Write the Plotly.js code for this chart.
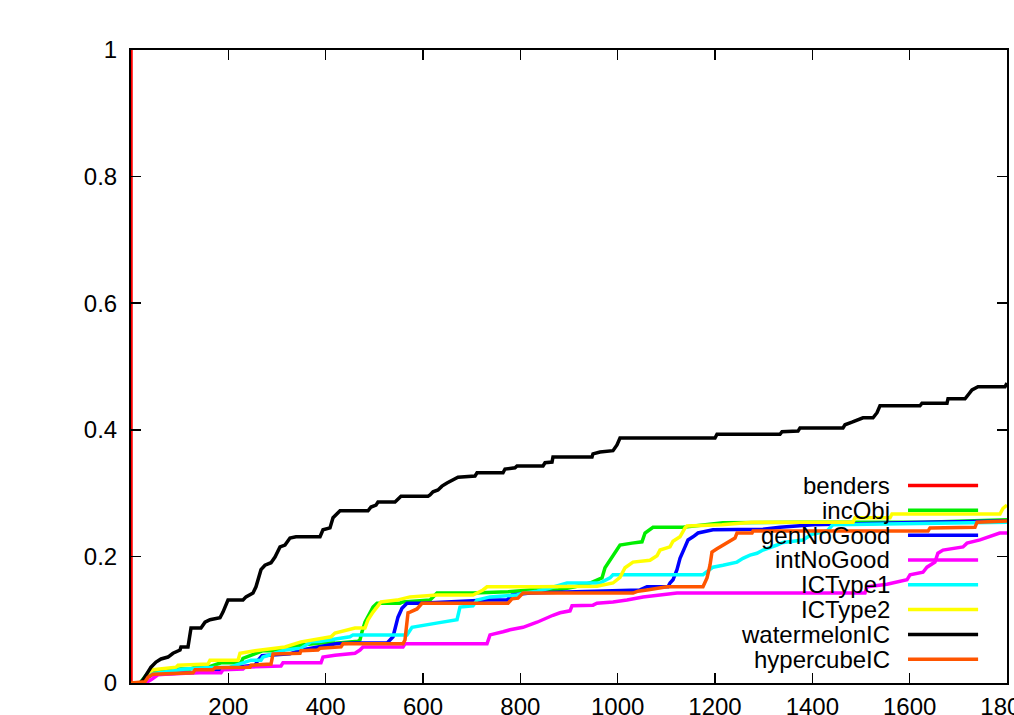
<!DOCTYPE html>
<html>
<head>
<meta charset="utf-8">
<script src="https://cdn.plot.ly/plotly-3.0.1.min.js"></script>
<style>
  html, body { margin: 0; padding: 0; background: #ffffff; }
  #chart { width: 1014px; height: 715px; }
</style>
</head>
<body>
<div id="chart"></div>
<script>
// Fraction of instances solved (y) against time in seconds (x), one curve per method.
const seriesNames = ['benders', 'incObj', 'genNoGood', 'intNoGood', 'ICType1', 'ICType2', 'watermelonIC', 'hypercubeIC'];
const seriesColors = ['#ff0000', '#00ee00', '#0000ff', '#ff00ff', '#00ffff', '#ffff00', '#000000', '#ff5500'];

const xTicks = [200, 400, 600, 800, 1000, 1200, 1400, 1600, 1800];
const yTicks = [0, 0.2, 0.4, 0.6, 0.8, 1];
const yTickText = ['0', '0.2', '0.4', '0.6', '0.8', '1'];

// [time, fraction solved]
const benders = [[0, 0], [0, 1]];

const incObj = [[0,0],[18.5,0],[24.7,0.006],[34.9,0.016],[102.7,0.022],[121.2,0.022],[131.5,0.025],[158.2,0.025],
  [184.9,0.032],[226.0,0.032],[230.1,0.039],[236.3,0.041],[271.2,0.051],[287.7,0.051],[349.3,0.060],[390.4,0.063],
  [419.2,0.063],[466.4,0.066],[470.5,0.068],[474.7,0.081],[480.8,0.096],[491.1,0.111],[497.3,0.120],[505.5,0.126],
  [552.7,0.126],[558.9,0.128],[614.4,0.131],[628.8,0.142],[702.7,0.142],[774.7,0.144],[819.9,0.147],[877.4,0.147],
  [912.3,0.152],[943.2,0.158],[957.5,0.163],[967.8,0.166],[974.0,0.182],[984.2,0.194],[1004.8,0.218],[1029.5,0.221],
  [1050.0,0.223],[1056.2,0.237],[1066.4,0.242],[1072.6,0.246],[1134.2,0.246],[1216.4,0.253],[1374.7,0.254],
  [1631.5,0.254],[1800,0.258]];

const genNoGood = [[0,0],[24.7,0],[34.9,0.009],[45.2,0.014],[141.8,0.017],[203.4,0.024],[254.8,0.028],[261.0,0.036],
  [269.2,0.043],[326.7,0.046],[347.3,0.052],[371.9,0.055],[421.2,0.062],[460.3,0.063],[526.0,0.063],[538.4,0.073],
  [542.5,0.088],[548.6,0.104],[556.8,0.118],[567.1,0.126],[593.8,0.126],[733.6,0.131],[772.6,0.131],[778.8,0.136],
  [782.9,0.139],[819.9,0.142],[1015.1,0.147],[1045.9,0.147],[1060.3,0.152],[1103.4,0.152],[1107.5,0.158],
  [1113.7,0.163],[1121.9,0.179],[1128.1,0.197],[1138.4,0.215],[1144.5,0.226],[1154.8,0.231],[1165.1,0.237],
  [1195.9,0.242],[1298.6,0.243],[1333.6,0.246],[1401.4,0.250],[1631.5,0.254],[1800,0.256]];

const intNoGood = [[0,0],[28.8,0],[41.1,0.005],[49.3,0.009],[55.5,0.013],[69.9,0.014],[133.6,0.016],[184.9,0.016],
  [189.0,0.021],[230.1,0.022],[234.2,0.025],[308.2,0.027],[312.3,0.032],[390.4,0.032],[394.5,0.041],[419.2,0.044],
  [460.3,0.047],[470.5,0.052],[476.7,0.057],[558.9,0.057],[563.0,0.062],[731.5,0.062],[737.7,0.076],[764.4,0.081],
  [778.8,0.084],[805.5,0.088],[834.3,0.096],[867.1,0.107],[881.5,0.111],[902.1,0.114],[906.2,0.122],[949.3,0.123],
  [957.5,0.126],[990.4,0.128],[1019.2,0.131],[1052.1,0.136],[1080.8,0.139],[1121.9,0.142],[1508.2,0.142],
  [1512.3,0.152],[1553.4,0.156],[1594.5,0.163],[1600.7,0.171],[1627.4,0.175],[1635.6,0.183],[1652.0,0.191],
  [1658.0,0.205],[1668.5,0.210],[1709.6,0.215],[1717.8,0.221],[1744.5,0.226],[1771.3,0.234],[1785.0,0.237],
  [1800,0.237]];

const ICType1 = [[0,0],[24.7,0],[30.8,0.006],[39.0,0.014],[111.0,0.022],[152.1,0.024],[203.4,0.025],[246.6,0.036],
  [267.1,0.036],[271.2,0.041],[316.4,0.052],[349.3,0.055],[369.9,0.065],[390.4,0.066],[450.0,0.073],[456.2,0.076],
  [567.1,0.076],[577.4,0.088],[630.8,0.095],[669.9,0.100],[676.0,0.120],[702.7,0.122],[711.0,0.131],[737.7,0.136],
  [793.2,0.139],[805.5,0.142],[834.2,0.145],[861.0,0.150],[895.9,0.158],[963.7,0.158],[984.2,0.166],[990.4,0.171],
  [1175.3,0.171],[1189.7,0.179],[1195.9,0.183],[1216.4,0.186],[1245.2,0.191],[1257.5,0.197],[1271.9,0.202],
  [1286.3,0.205],[1298.6,0.210],[1327.4,0.218],[1339.7,0.222],[1380.8,0.226],[1399.0,0.235],[1430.0,0.240],
  [1442.0,0.250],[1800,0.254]];

const ICType2 = [[0,0],[24.7,0],[34.9,0.016],[45.2,0.021],[92.5,0.025],[96.6,0.028],[158.2,0.030],[162.3,0.036],
  [219.9,0.036],[224.0,0.047],[254.8,0.051],[267.1,0.052],[316.4,0.057],[349.3,0.065],[411.0,0.073],[419.2,0.079],
  [460.3,0.087],[480.8,0.087],[487.0,0.100],[497.3,0.112],[507.5,0.123],[513.7,0.128],[546.6,0.131],[573.3,0.136],
  [628.8,0.139],[702.7,0.139],[723.3,0.147],[731.5,0.152],[834.2,0.152],[957.5,0.153],[990.4,0.158],[1004.8,0.167],
  [1015.1,0.182],[1031.5,0.191],[1066.4,0.194],[1080.8,0.201],[1087.0,0.210],[1107.5,0.215],[1113.7,0.224],
  [1128.1,0.231],[1138.4,0.245],[1142.5,0.248],[1214.4,0.250],[1276.0,0.254],[1483.6,0.254],[1487.7,0.261],
  [1559.6,0.261],[1563.7,0.267],[1785.6,0.267],[1791.8,0.276],[1800,0.281]];

const watermelonIC = [[0,0],[18.5,0],[24.7,0.005],[34.9,0.017],[41.1,0.025],[51.4,0.033],[61.6,0.038],[76.0,0.041],
  [86.3,0.047],[100.7,0.052],[102.7,0.057],[117.1,0.057],[123.3,0.087],[143.8,0.087],[152.1,0.096],[162.3,0.100],
  [182.9,0.103],[189.0,0.112],[199.3,0.131],[230.1,0.131],[236.3,0.136],[250.7,0.142],[256.8,0.152],[267.1,0.179],
  [275.3,0.186],[287.7,0.190],[295.9,0.199],[306.2,0.215],[316.4,0.218],[326.7,0.229],[339.0,0.231],[388.4,0.231],
  [394.5,0.242],[408.9,0.245],[415.1,0.261],[429.5,0.272],[487.0,0.272],[493.2,0.278],[503.4,0.281],[507.5,0.286],
  [542.5,0.286],[554.8,0.295],[610.3,0.295],[614.4,0.297],[620.6,0.302],[630.8,0.305],[639.0,0.311],[649.3,0.316],
  [661.6,0.321],[671.9,0.325],[706.9,0.327],[711.0,0.332],[764.4,0.332],[768.5,0.338],[789.0,0.340],[793.2,0.343],
  [846.6,0.343],[850.7,0.348],[865.1,0.349],[867.1,0.357],[947.3,0.357],[949.3,0.362],[963.7,0.365],[990.4,0.367],
  [998.6,0.376],[1004.8,0.387],[1200.0,0.387],[1204.1,0.393],[1333.6,0.393],[1337.7,0.397],[1370.6,0.398],
  [1374.7,0.403],[1463.0,0.403],[1467.1,0.408],[1481.5,0.412],[1504.1,0.419],[1524.7,0.419],[1532.9,0.427],
  [1539.0,0.438],[1621.2,0.438],[1625.3,0.442],[1676.7,0.442],[1678.8,0.449],[1713.7,0.449],[1719.9,0.455],
  [1728.1,0.463],[1740.4,0.468],[1795.9,0.468],[1800,0.474]];

const hypercubeIC = [[0,0],[28.8,0.002],[34.9,0.009],[45.2,0.014],[127.4,0.016],[131.5,0.021],[168.5,0.021],
  [172.6,0.024],[244.5,0.025],[246.6,0.028],[287.7,0.030],[291.8,0.046],[347.3,0.047],[349.3,0.051],[384.2,0.052],
  [388.4,0.055],[431.5,0.057],[435.6,0.062],[558.9,0.062],[563.0,0.068],[569.2,0.111],[573.3,0.112],[587.7,0.117],
  [593.8,0.123],[597.9,0.126],[774.7,0.126],[782.9,0.133],[795.2,0.134],[805.5,0.142],[1031.5,0.142],[1041.8,0.145],
  [1060.3,0.147],[1101.4,0.152],[1175.3,0.152],[1183.6,0.166],[1189.7,0.186],[1193.8,0.207],[1204.1,0.212],
  [1216.4,0.218],[1226.7,0.223],[1241.1,0.229],[1245.2,0.237],[1276.0,0.237],[1278.1,0.240],[1637.7,0.240],
  [1641.8,0.245],[1734.2,0.246],[1738.4,0.254],[1800,0.256]];

const seriesData = [benders, incObj, genNoGood, intNoGood, ICType1, ICType2, watermelonIC, hypercubeIC];

const FONT = 'Liberation Sans, Arial, Helvetica, sans-serif';

const traces = seriesData.map((pts, i) => ({
  type: 'scatter',
  mode: 'lines',
  name: seriesNames[i],
  x: pts.map(p => p[0]),
  y: pts.map(p => p[1]),
  line: { color: seriesColors[i], width: 3.5 },
  hoverinfo: 'skip',
  showlegend: false
}));

// Key in the lower right: right-aligned labels followed by a short line sample.
const keyTop = 0.312, keyStep = 0.0392;
const keyTextX = 0.8687, keySample = [0.887, 0.967];
const annotations = seriesNames.map((name, i) => ({
  xref: 'paper', yref: 'paper',
  x: keyTextX, y: keyTop - i * keyStep,
  xanchor: 'right', yanchor: 'middle',
  text: name, showarrow: false,
  font: { family: FONT, size: 24, color: '#000000' }
}));
const shapes = seriesNames.map((name, i) => ({
  type: 'line', xref: 'paper', yref: 'paper',
  x0: keySample[0], x1: keySample[1],
  y0: keyTop - i * keyStep, y1: keyTop - i * keyStep,
  line: { color: seriesColors[i], width: 3.5 }
}));

const axisCommon = {
  showline: true, linecolor: '#000000', linewidth: 2,
  mirror: 'ticks', ticks: 'inside', ticklen: 10, tickwidth: 1.5, tickcolor: '#000000',
  showgrid: false, zeroline: false,
  ticklabeloverflow: 'allow',
  tickfont: { family: FONT, size: 24, color: '#000000' }
};

const layout = {
  width: 1014, height: 715,
  margin: { l: 131, r: 7, t: 50, b: 32, pad: 0 },
  paper_bgcolor: '#ffffff', plot_bgcolor: '#ffffff',
  showlegend: false,
  xaxis: Object.assign({}, axisCommon, {
    range: [0, 1800], tickmode: 'array', tickvals: xTicks,
    ticklabelstandoff: 1
  }),
  yaxis: Object.assign({}, axisCommon, {
    range: [0, 1], tickmode: 'array', tickvals: yTicks, ticktext: yTickText,
    ticklabelstandoff: 7
  }),
  annotations: annotations,
  shapes: shapes
};

Plotly.newPlot('chart', traces, layout, { staticPlot: true, displayModeBar: false });
</script>
</body>
</html>
